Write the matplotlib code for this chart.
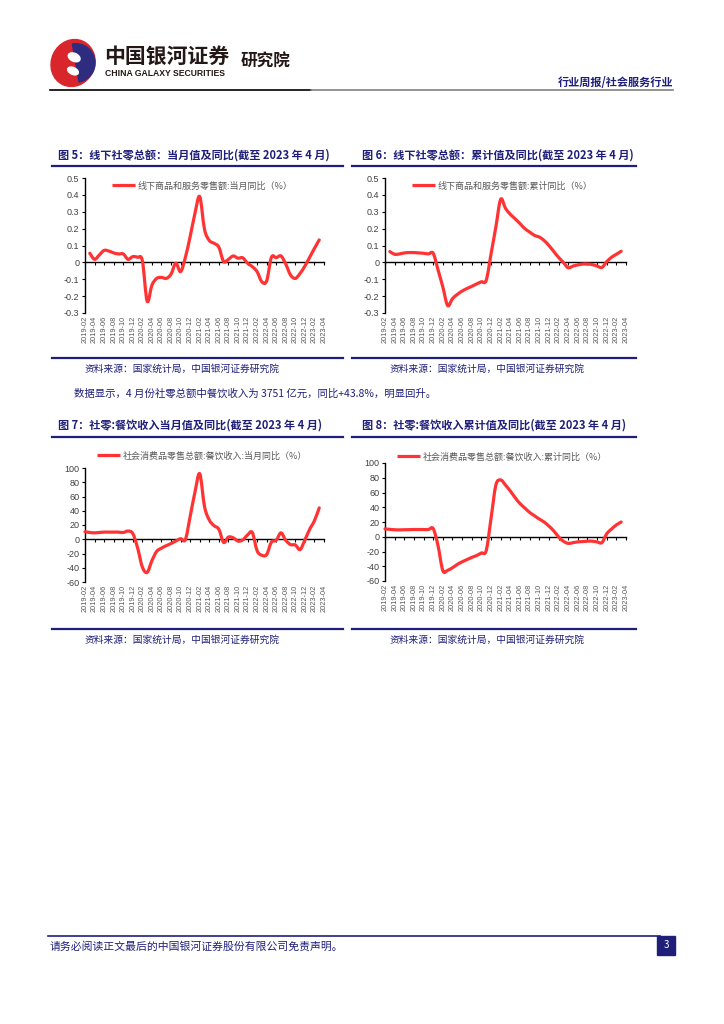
import matplotlib
matplotlib.use('Agg')
import matplotlib.pyplot as plt
from matplotlib.lines import Line2D
from matplotlib.patches import Rectangle, Ellipse, Wedge, PathPatch
from matplotlib.path import Path

plt.rcParams['font.family'] = ['Noto Sans CJK SC', 'DejaVu Sans']
plt.rcParams['axes.unicode_minus'] = False

W, H = 724, 1024
NAVY = '#1f1f7a'
RED = '#ff3333'
GRAY = '#595959'

# month axis 2019-02 .. 2023-04
months = []
for yr in range(2019, 2024):
    for mo in range(1, 13):
        s = '%d-%02d' % (yr, mo)
        if '2019-02' <= s <= '2023-04':
            months.append(s)
tick_labels = months[::2]

# fig 5: offline retail, monthly yoy (from 2019-03)
off_month_start = '2019-03'
off_month = [0.054, 0.018, 0.044, 0.071, 0.067, 0.056, 0.050, 0.050, 0.018, 0.034,
             0.030, 0.010, -0.230, -0.135, -0.095, -0.089, -0.095, -0.070, -0.005, -0.055,
             0.030, 0.153, 0.290, 0.390, 0.196, 0.130, 0.113, 0.090, 0.005, 0.018,
             0.038, 0.025, 0.027, -0.005, -0.025, -0.055, -0.115, -0.110, 0.030, 0.028,
             0.038, -0.010, -0.075, -0.095, -0.065, -0.022, 0.030, 0.083, 0.133]

# fig 6: offline retail, cumulative yoy (from 2019-03)
off_cum_start = '2019-03'
off_cum = [0.064, 0.048, 0.050, 0.056, 0.058, 0.058, 0.056, 0.054, 0.050, 0.054,
           -0.044, -0.146, -0.256, -0.215, -0.190, -0.170, -0.155, -0.142, -0.128, -0.115,
           -0.106, 0.050, 0.210, 0.374, 0.320, 0.285, 0.258, 0.230, 0.200, 0.180,
           0.160, 0.150, 0.130, 0.100, 0.065, 0.030, 0.000, -0.032, -0.022, -0.015,
           -0.010, -0.010, -0.013, -0.022, -0.030, 0.004, 0.030, 0.048, 0.066]

# fig 7: catering revenue, monthly yoy % (from 2019-02)
cat_month_start = '2019-02'
cat_month = [10.5, 9.5, 9.0, 9.5, 10.0, 10.0, 10.0, 10.0, 9.5, 11.5,
             8.0, -12.0, -39.0, -46.5, -30.0, -17.0, -12.5, -9.0, -6.0, -2.5,
             0.8, -0.5, 32.0, 66.0, 92.0, 46.0, 27.0, 19.0, 14.0, -4.5,
             3.0, 2.0, -2.5, -1.0, 6.0, 9.5, -16.0, -22.5, -21.5, -4.0,
             -1.5, 9.0, -1.5, -7.5, -8.0, -14.5, -1.0, 14.0, 26.0, 44.0]

# fig 8: catering revenue, cumulative yoy % (from 2019-02)
cat_cum_start = '2019-02'
cat_cum = [10.7, 10.0, 9.5, 9.3, 9.5, 9.6, 9.8, 9.8, 9.8, 9.8,
           11.0, -12.0, -46.0, -45.5, -42.0, -37.5, -34.0, -31.0, -28.0, -25.5,
           -22.0, -18.7, 25.0, 70.0, 77.0, 70.0, 62.0, 53.0, 45.0, 39.0,
           33.0, 28.5, 24.0, 20.0, 14.5, 8.0, 0.0, -6.0, -9.0, -8.0,
           -7.0, -6.5, -6.0, -6.0, -7.0, -8.0, 4.0, 10.5, 16.0, 20.0]

fig = plt.figure(figsize=(W / 100, H / 100), dpi=100)


def fx(x):
    return x / W


def fy(y):
    return 1 - y / H


def hline(x0, x1, y, color, lw):
    fig.add_artist(Line2D([fx(x0), fx(x1)], [fy(y), fy(y)], color=color, lw=lw,
                          transform=fig.transFigure))


def smooth_path(xs, ys):
    # Excel-like smoothed line: cubic bezier through every data point
    pts = list(zip(xs, ys))
    verts = [pts[0]]
    codes = [Path.MOVETO]
    n = len(pts)
    for i in range(n - 1):
        p0 = pts[i - 1] if i > 0 else pts[i]
        p1, p2 = pts[i], pts[i + 1]
        p3 = pts[i + 2] if i + 2 < n else pts[i + 1]
        c1 = (p1[0] + (p2[0] - p0[0]) / 6, p1[1] + (p2[1] - p0[1]) / 6)
        c2 = (p2[0] - (p3[0] - p1[0]) / 6, p2[1] - (p3[1] - p1[1]) / 6)
        verts += [c1, c2, p2]
        codes += [Path.CURVE4] * 3
    return Path(verts, codes)


# ---- header ----
logo = fig.add_axes([fx(48), fy(88), fx(50), 50 / H])
logo.set_xlim(-1.1, 1.1)
logo.set_ylim(-1.1, 1.1)
logo.axis('off')
logo.add_patch(Ellipse((0, 0), 1.9, 2.1, angle=-25, color='#d9262c'))
logo.add_patch(Wedge((0.12, 0.0), 0.85, -80, 100, color='#2e2c7e'))
logo.add_patch(Ellipse((0.05, 0.25), 0.55, 0.35, angle=-25, color='white'))
logo.add_patch(Ellipse((0.0, -0.35), 0.5, 0.3, angle=-25, color='white'))
fig.text(fx(104), fy(56), '中国银河证券', fontsize=15, fontweight='bold', color='#231815', va='center')
fig.text(fx(105), fy(74), 'CHINA GALAXY SECURITIES', fontsize=6.2, fontweight='bold',
         color='#231815', va='center', family='Liberation Sans')
fig.text(fx(241), fy(62), '研究院', fontsize=12, fontweight='bold', color='#231815', va='center')
fig.text(fx(673), fy(82), '行业周报/社会服务行业', fontsize=8, fontweight='bold', color=NAVY,
         ha='right', va='center')
hline(50, 311, 90, 'black', 1.2)
hline(311, 673, 90, '#808080', 1.2)

# ---- body text ----
fig.text(fx(74), fy(393), '数据显示，4 月份社零总额中餐饮收入为 3751 亿元，同比+43.8%，明显回升。',
         fontsize=7.5, color=NAVY, va='center')

# ---- footer ----
hline(48, 660, 936, NAVY, 1.2)
fig.text(fx(50), fy(946), '请务必阅读正文最后的中国银河证券股份有限公司免责声明。', fontsize=7.8,
         color=NAVY, va='center')
fig.add_artist(Rectangle((fx(657), fy(955)), fx(18), 19 / H, color=NAVY, transform=fig.transFigure))
fig.text(fx(666), fy(945.5), '3', fontsize=7, color='white', ha='center', va='center')

charts = [
    dict(title='图 5：线下社零总额：当月值及同比(截至 2023 年 4 月)', tx=58, ty=155,
         rule=(52, 343), rule_y=166, src_y=358, src_x=85,
         box=(85, 178, 324, 313), start=off_month_start, vals=off_month,
         ylim=(-0.3, 0.5), yticks=[0.5, 0.4, 0.3, 0.2, 0.1, 0, -0.1, -0.2, -0.3],
         label='线下商品和服务零售额:当月同比（%）', leg=(112, 186)),
    dict(title='图 6：线下社零总额：累计值及同比(截至 2023 年 4 月)', tx=362, ty=155,
         rule=(352, 636), rule_y=166, src_y=358, src_x=390,
         box=(385, 178, 626, 313), start=off_cum_start, vals=off_cum,
         ylim=(-0.3, 0.5), yticks=[0.5, 0.4, 0.3, 0.2, 0.1, 0, -0.1, -0.2, -0.3],
         label='线下商品和服务零售额:累计同比（%）', leg=(412, 186)),
    dict(title='图 7：社零:餐饮收入当月值及同比(截至 2023 年 4 月)', tx=58, ty=425,
         rule=(52, 343), rule_y=437, src_y=629, src_x=85,
         box=(85, 468, 324, 582), start=cat_month_start, vals=cat_month,
         ylim=(-60, 100), yticks=[100, 80, 60, 40, 20, 0, -20, -40, -60],
         label='社会消费品零售总额:餐饮收入:当月同比（%）', leg=(97, 456)),
    dict(title='图 8：社零:餐饮收入累计值及同比(截至 2023 年 4 月)', tx=362, ty=425,
         rule=(352, 636), rule_y=437, src_y=629, src_x=390,
         box=(385, 463, 626, 581), start=cat_cum_start, vals=cat_cum,
         ylim=(-60, 100), yticks=[100, 80, 60, 40, 20, 0, -20, -40, -60],
         label='社会消费品零售总额:餐饮收入:累计同比（%）', leg=(397, 457)),
]

for c in charts:
    fig.text(fx(c['tx']), fy(c['ty']), c['title'], fontsize=8, fontweight='bold',
             color=NAVY, va='center')
    hline(c['rule'][0], c['rule'][1], c['rule_y'], NAVY, 1.6)
    hline(c['rule'][0], c['rule'][1], c['src_y'], NAVY, 1.6)
    fig.text(fx(c['src_x']), fy(c['src_y'] + 11), '资料来源：国家统计局，中国银河证券研究院',
             fontsize=7, color=NAVY, va='center', style='italic')

    x0, y0, x1, y1 = c['box']
    ax = fig.add_axes([fx(x0), fy(y1), (x1 - x0) / W, (y1 - y0) / H])
    i0 = months.index(c['start'])
    xs = list(range(i0, i0 + len(c['vals'])))
    ax.add_patch(PathPatch(smooth_path(xs, c['vals']), fill=False, edgecolor=RED, lw=2.3,
                           joinstyle='round', capstyle='round', zorder=5, clip_on=False))
    handle = Line2D([], [], color=RED, lw=2.3, solid_capstyle='butt')
    ax.set_xlim(0, len(months) - 1)
    ax.set_ylim(*c['ylim'])
    ax.set_yticks(c['yticks'])
    ax.set_yticklabels([('%g' % v) for v in c['yticks']])
    for s in ['top', 'right']:
        ax.spines[s].set_visible(False)
    ax.spines['bottom'].set_position(('data', 0))
    ax.spines['left'].set_linewidth(1.0)
    ax.spines['bottom'].set_linewidth(1.0)
    ax.set_xticks(range(0, len(months), 2))
    ax.tick_params(axis='x', direction='out', length=2.5, width=0.8, labelbottom=False)
    ax.tick_params(axis='y', direction='out', length=2.5, width=0.8, labelsize=6.5,
                   labelcolor='#404040', pad=1.5)
    for t in ax.get_yticklabels():
        t.set_family('Liberation Sans')
    sec = ax.secondary_xaxis('bottom')
    sec.set_xticks(range(0, len(months), 2))
    sec.set_xticklabels(tick_labels, rotation=90, fontsize=5.3, color=GRAY,
                        family='Liberation Sans')
    sec.tick_params(length=0, pad=2)
    sec.spines['bottom'].set_visible(False)
    ax.patch.set_alpha(0)

    lx, ly = c['leg']
    ax.legend([handle], [c['label']], loc='center left', bbox_to_anchor=(fx(lx), fy(ly)),
              bbox_transform=fig.transFigure, frameon=False, fontsize=6.5, labelcolor=GRAY,
              handlelength=2.6, handletextpad=0.25, borderpad=0, borderaxespad=0)

fig.savefig('out.png', dpi=100)
